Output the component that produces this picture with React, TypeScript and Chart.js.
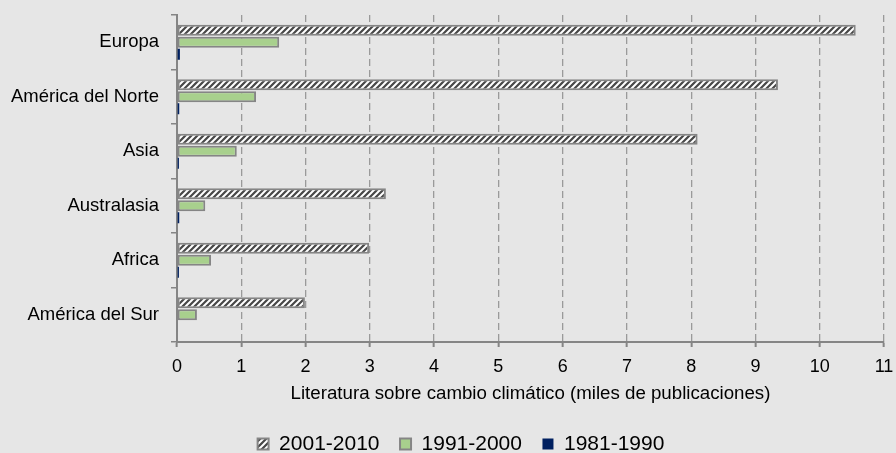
import React, { useEffect, useRef } from 'react';
import { Chart, registerables } from 'chart.js';

Chart.register(...registerables);

const categories = ['Europa', 'América del Norte', 'Asia', 'Australasia', 'Africa', 'América del Sur'];
const seriesLabels = ['2001-2010', '1991-2000', '1981-1990'];
const values2001to2010 = [10.56, 9.35, 8.1, 3.25, 2.99, 1.99];
const values1991to2000 = [1.59, 1.23, 0.93, 0.44, 0.53, 0.31];
const values1981to1990 = [0.045, 0.035, 0.03, 0.035, 0.03, 0.01];
const xMin = 0;
const xMax = 11;
const xStep = 1;
const xTitle = 'Literatura sobre cambio climático (miles de publicaciones)';

const FONT = "'Liberation Sans', Arial, sans-serif";
const BG = '#e6e6e6';
const GRAY = '#858585';

function makeHatch(): CanvasPattern | string {
  const p = document.createElement('canvas');
  p.width = 6;
  p.height = 6;
  const c = p.getContext('2d');
  if (!c) return '#777';
  c.fillStyle = '#474747';
  c.fillRect(0, 0, 6, 6);
  c.strokeStyle = '#ffffff';
  c.lineWidth = 2;
  c.beginPath();
  c.moveTo(-2, 8); c.lineTo(8, -2);
  c.moveTo(-3, 3); c.lineTo(3, -3);
  c.moveTo(3, 9); c.lineTo(9, 3);
  c.stroke();
  const pat = c.createPattern(p, 'repeat');
  return pat || '#777';
}

const legendShift = {
  id: 'legendShift',
  afterLayout(chart: any) {
    if (chart.legend) {
      chart.legend.left = 38;
    }
  },
};

export default function App() {
  const ref = useRef<HTMLCanvasElement>(null);
  useEffect(() => {
    document.body.style.margin = '0';
    document.body.style.background = BG;
    if (!ref.current) return;
    Chart.defaults.font.family = FONT;
    const hatch = makeHatch();
    const common = { categoryPercentage: 0.66, barPercentage: 0.92 };
    const chart = new Chart(ref.current, {
      type: 'bar',
      data: {
        labels: categories,
        datasets: [
          { label: seriesLabels[0], data: values2001to2010, backgroundColor: hatch as any, borderColor: GRAY, borderWidth: 2, borderSkipped: false, ...common },
          { label: seriesLabels[1], data: values1991to2000, backgroundColor: '#a8d08d', borderColor: GRAY, borderWidth: 2, borderSkipped: false, ...common },
          { label: seriesLabels[2], data: values1981to1990, backgroundColor: '#002060', borderColor: '#002060', borderWidth: 0, ...common },
        ],
      },
      plugins: [legendShift],
      options: {
        indexAxis: 'y',
        animation: false,
        responsive: false,
        maintainAspectRatio: false,
        layout: { padding: { left: 0, right: 12, top: 15, bottom: -11.5 } },
        scales: {
          x: {
            min: xMin,
            max: xMax,
            ticks: { stepSize: xStep, color: '#000', font: { family: FONT, size: 18 }, padding: 9, maxRotation: 0 },
            grid: {
              color: (ctx: any) => (ctx.tick && ctx.tick.value === 0 ? 'rgba(0,0,0,0)' : '#9a9a9a'),
              lineWidth: 1.3,
              tickLength: 5,
              tickColor: GRAY,
              tickWidth: 2,
              tickBorderDash: [10, 0],
            },
            border: { display: true, color: GRAY, width: 2, dash: [7, 4] },
            title: { display: true, text: xTitle, color: '#000', font: { family: FONT, size: 18.7 }, padding: { top: 0, bottom: 8 } },
            afterFit: (s: any) => {
              s.height = 71;
              s.paddingLeft = 0;
              s.paddingRight = 0;
            },
          },
          y: {
            ticks: { color: '#000', font: { family: FONT, size: 18.5 }, padding: 12 },
            grid: { drawOnChartArea: false, tickLength: 6, color: GRAY, lineWidth: 1.5, offset: true },
            border: { display: true, color: GRAY, width: 2 },
            afterFit: (s: any) => {
              s.width = 177;
              s.paddingTop = 0;
              s.paddingBottom = 0;
            },
          },
        },
        plugins: {
          legend: {
            position: 'bottom',
            labels: { boxWidth: 11, boxHeight: 11, padding: 20.5, color: '#000', font: { family: FONT, size: 21 } },
          },
          tooltip: { enabled: false },
        },
      } as any,
    });
    return () => chart.destroy();
  }, []);
  return (
    <div style={{ width: 896, height: 453, background: BG }}>
      <canvas ref={ref} width={896} height={453} style={{ display: 'block' }} />
    </div>
  );
}
